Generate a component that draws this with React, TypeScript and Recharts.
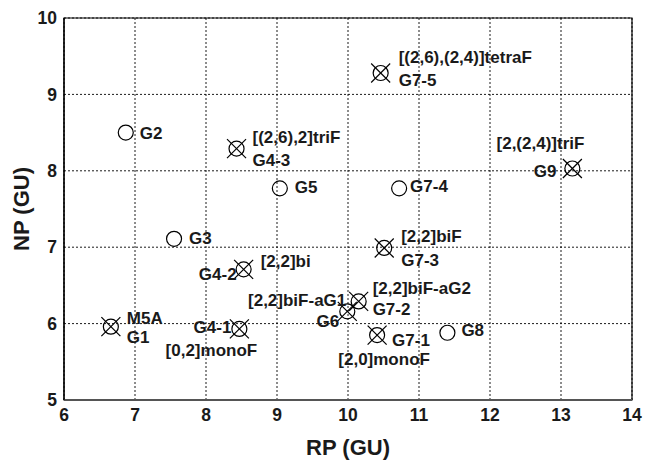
import React from 'react';
import { ScatterChart, Scatter, XAxis, YAxis, CartesianGrid, ReferenceArea } from 'recharts';

const names = ['G1', 'G2', 'G3', 'G4-1', 'G4-2', 'G4-3', 'G5', 'G6', 'G7-1', 'G7-2', 'G7-3', 'G7-4', 'G7-5', 'G8', 'G9'];
const rpValues = [6.66, 6.87, 7.55, 8.47, 8.53, 8.43, 9.04, 9.99, 10.41, 10.15, 10.51, 10.72, 10.46, 11.4, 13.16];
const npValues = [5.96, 8.5, 7.11, 5.93, 6.71, 8.29, 7.77, 6.16, 5.85, 6.29, 6.99, 7.77, 9.28, 5.88, 8.03];
const crossed = [true, false, false, true, true, true, false, true, true, true, true, false, true, false, true];
const annotations: Record<string, string> = {
  'G1': 'M5A',
  'G4-1': '[0,2]monoF',
  'G4-2': '[2,2]bi',
  'G4-3': '[(2,6),2]triF',
  'G6': '[2,2]biF-aG1',
  'G7-1': '[2,0]monoF',
  'G7-2': '[2,2]biF-aG2',
  'G7-3': '[2,2]biF',
  'G7-5': '[(2,6),(2,4)]tetraF',
  'G9': '[2,(2,4)]triF',
};
const xTicks = [6, 7, 8, 9, 10, 11, 12, 13, 14];
const yTicks = [5, 6, 7, 8, 9, 10];

// label placement relative to each marker: [anchor, dx, dy(center)]
type Place = [string, number, number];
const namePlace: Record<string, Place> = {
  'G1': ['start', 16, 10],
  'G2': ['start', 14, 0],
  'G3': ['start', 15, -1],
  'G4-1': ['end', -8, -2],
  'G4-2': ['end', -7, 5],
  'G4-3': ['start', 16, 11],
  'G5': ['start', 15, -1],
  'G6': ['end', -8, 10],
  'G7-1': ['start', 15, 5],
  'G7-2': ['start', 14, 8],
  'G7-3': ['start', 17, 12],
  'G7-4': ['start', 11, -2],
  'G7-5': ['start', 18, 7],
  'G8': ['start', 14, -3],
  'G9': ['end', -16, 3],
};
const annPlace: Record<string, Place> = {
  'G1': ['start', 16, -9],
  'G4-1': ['middle', -28, 21],
  'G4-2': ['start', 17, -8],
  'G4-3': ['start', 16, -12],
  'G6': ['end', -1, -11],
  'G7-1': ['middle', 7, 24],
  'G7-2': ['start', 14, -13],
  'G7-3': ['start', 17, -12],
  'G7-5': ['start', 18, -16],
  'G9': ['end', 12, -25],
};

const data = names.map((n, i) => ({ name: n, rp: rpValues[i], np: npValues[i], crossed: crossed[i] }));

const FONT = '"Liberation Sans", Arial, Helvetica, sans-serif';
const LABEL_SIZE = 17;
const TEXT_COLOR = '#1a1a1a';

const Marker = (props: any) => {
  const { cx, cy, payload } = props;
  if (cx == null || cy == null) return null;
  const r = 7.5;
  const d = 9.5;
  const np = namePlace[payload.name];
  const ann = annotations[payload.name];
  const ap = annPlace[payload.name];
  const base = 0.35 * LABEL_SIZE;
  return (
    <g>
      <circle cx={cx} cy={cy} r={r} fill="none" stroke="#000" strokeWidth={1.2} />
      {payload.crossed && (
        <g stroke="#000" strokeWidth={1.2}>
          <line x1={cx - d} y1={cy - d} x2={cx + d} y2={cy + d} />
          <line x1={cx - d} y1={cy + d} x2={cx + d} y2={cy - d} />
        </g>
      )}
      {np && (
        <text x={cx + np[1]} y={cy + np[2] + base} textAnchor={np[0]} fontFamily={FONT} fontWeight="bold" fontSize={LABEL_SIZE} fill={TEXT_COLOR}>
          {payload.name}
        </text>
      )}
      {ann && ap && (
        <text x={cx + ap[1]} y={cy + ap[2] + base} textAnchor={ap[0]} fontFamily={FONT} fontWeight="bold" fontSize={LABEL_SIZE} fill={TEXT_COLOR}>
          {ann}
        </text>
      )}
    </g>
  );
};

const XTitle = (props: any) => {
  const vb = props.viewBox || {};
  return (
    <text x={vb.x + vb.width / 2} y={vb.y + vb.height - 6} textAnchor="middle" fontFamily={FONT} fontWeight="bold" fontSize={22} fill={TEXT_COLOR}>
      RP (GU)
    </text>
  );
};

const YTitle = (props: any) => {
  const vb = props.viewBox || {};
  const x = vb.x + 29;
  const y = vb.y + vb.height / 2;
  return (
    <text x={x} y={y} transform={`rotate(-90 ${x} ${y})`} textAnchor="middle" fontFamily={FONT} fontWeight="bold" fontSize={22} fill={TEXT_COLOR}>
      NP (GU)
    </text>
  );
};

export default function App() {
  return (
    <div style={{ position: 'absolute', left: 0, top: 0, width: 646, height: 461, background: '#fff' }}>
      <ScatterChart width={646} height={461} margin={{ top: 18, right: 14, bottom: 0, left: 0 }}>
        <CartesianGrid stroke="#000" strokeWidth={0.9} strokeDasharray="2 2" />
        <XAxis
          type="number"
          dataKey="rp"
          domain={[6, 14]}
          ticks={xTicks}
          allowDataOverflow
          height={61}
          tickLine={false}
          tickSize={7}
          axisLine={{ stroke: '#555', strokeWidth: 2 }}
          tick={{ fontFamily: FONT, fontWeight: 'bold', fontSize: 17.5, fill: TEXT_COLOR }}
          label={<XTitle />}
        />
        <YAxis
          type="number"
          dataKey="np"
          domain={[5, 10]}
          ticks={yTicks}
          allowDataOverflow
          width={64}
          tickLine={false}
          tickSize={5}
          axisLine={{ stroke: '#000', strokeWidth: 1.2 }}
          tick={{ fontFamily: FONT, fontWeight: 'bold', fontSize: 17.5, fill: TEXT_COLOR }}
          label={<YTitle />}
        />
        <ReferenceArea x1={6} x2={14} y1={5} y2={10} fill="none" fillOpacity={0} stroke="#000" strokeWidth={1.2} strokeOpacity={1} />
        <Scatter data={data} shape={<Marker />} isAnimationActive={false} />
      </ScatterChart>
    </div>
  );
}
